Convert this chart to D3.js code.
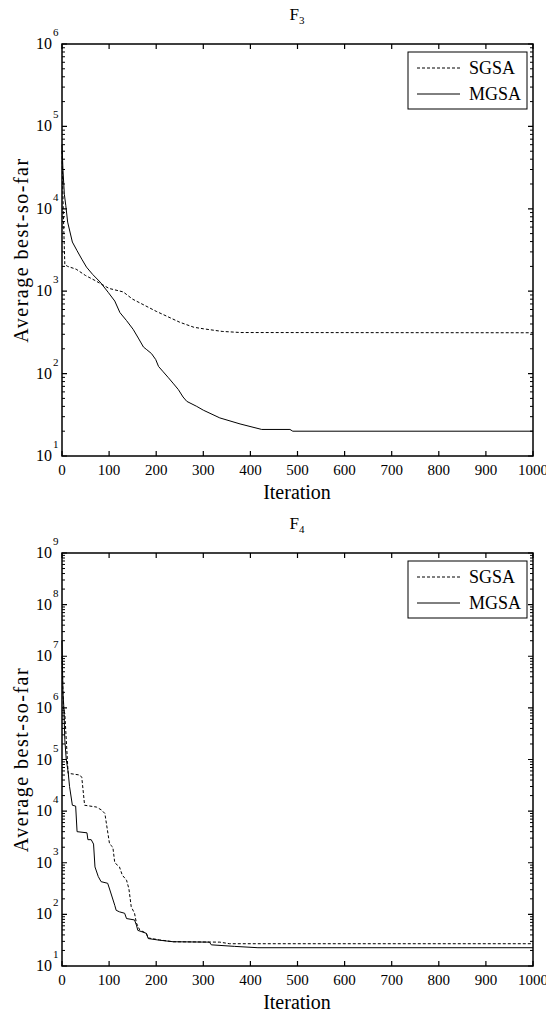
<!DOCTYPE html>
<html>
<head>
<meta charset="utf-8">
<script src="https://cdn.jsdelivr.net/npm/d3@7"></script>
</head>
<body style="margin:0">
<script>
// x axis ticks shared by both panels
const xTickValues = [0, 100, 200, 300, 400, 500, 600, 700, 800, 900, 1000];
const seriesNames = ['SGSA', 'MGSA'];

// F3
const f3SgsaIter = [0, 3, 6, 12, 30, 50, 70, 100, 130, 150, 200, 250, 280, 300, 340, 380, 1000];
const f3SgsaVal  = [50000, 8000, 2100, 2000, 1850, 1550, 1350, 1080, 980, 800, 570, 420, 365, 350, 325, 315, 313];
const f3MgsaIter = [0, 2, 5, 8, 12, 22, 32, 42, 52, 65, 81, 98, 112, 123, 137, 151, 162, 173, 180, 190, 199, 205, 215, 226, 237, 247, 257, 265, 286, 300, 335, 378, 424, 484, 490, 1000];
const f3MgsaVal  = [60000, 30000, 15000, 11000, 6900, 3950, 3100, 2450, 1960, 1600, 1290, 970, 760, 550, 440, 345, 270, 210, 195, 175, 148, 122, 105, 89, 75, 64, 52, 46, 40, 36, 29, 24.5, 21, 21, 20, 20];

// F4
const f4SgsaIter = [0, 3, 6, 13, 38, 42, 48, 73, 84, 91, 101, 108, 112, 122, 128, 137, 142, 147, 154, 158, 165, 179, 183, 207, 236, 335, 356, 1000];
const f4SgsaVal  = [1e7, 1e6, 7.7e5, 5.4e4, 5e4, 4.5e4, 1.3e4, 1.2e4, 1.05e4, 9000, 2300, 2000, 1000, 830, 575, 460, 315, 140, 105, 68, 50, 43, 35, 32, 29.5, 29, 27, 27];
const f4MgsaIter = [0, 2, 4, 6, 9, 13, 16, 22, 29, 32, 53, 55, 62, 67, 70, 77, 83, 97, 101, 112, 115, 122, 133, 137, 154, 158, 161, 179, 183, 207, 236, 313, 317, 366, 416, 1000];
const f4MgsaVal  = [2e7, 2e6, 1e6, 2.4e5, 1e5, 5.8e4, 3e4, 1.3e4, 1.25e4, 4000, 3800, 2800, 2800, 2300, 830, 540, 430, 400, 310, 150, 120, 112, 105, 83, 78, 62, 49, 43, 34, 31.6, 29.5, 29, 25.7, 24, 22.6, 22.6];

const FONT = 'Times New Roman';

let svg = d3.select('body').append('svg')
    .attr('width', 546).attr('height', 1015);

function zip(iter, val) { return iter.map((d, i) => ({ x: d, y: val[i] })); }

function label(sel, size) {
    return sel.attr('font-size', size).attr('font-family', FONT).style('font-family', FONT);
}

function drawPanel(p) {
    let x = d3.scaleLinear().domain([0, 1000]).range([62, 533]);
    let y = d3.scaleLog().domain([10, Math.pow(10, p.maxExp)]).range([p.bottom, p.top]);
    let g = svg.append('g');

    // title
    let t = label(g.append('text'), 17).attr('x', 297).attr('y', p.top - 24).attr('text-anchor', 'middle');
    t.append('tspan').text('F');
    t.append('tspan').attr('dy', 4).attr('font-size', 11).text(p.sub);

    // curves
    let line = d3.line().x(d => x(d.x)).y(d => y(d.y));
    g.append('path').datum(zip(p.sgsaIter, p.sgsaVal))
        .attr('d', line).attr('fill', 'none').attr('stroke', 'black')
        .attr('stroke-width', 1).attr('stroke-dasharray', '3,2');
    g.append('path').datum(zip(p.mgsaIter, p.mgsaVal))
        .attr('d', line).attr('fill', 'none').attr('stroke', 'black').attr('stroke-width', 1);

    // box
    g.append('rect').attr('x', x(0)).attr('y', p.top)
        .attr('width', x(1000) - x(0)).attr('height', p.bottom - p.top)
        .attr('fill', 'none').attr('stroke', 'black').attr('stroke-width', 1.5);

    // x ticks, inward on bottom and top
    g.selectAll('.xt').data(xTickValues).join('path')
        .attr('d', d => 'M' + x(d) + ',' + p.bottom + 'v-5M' + x(d) + ',' + p.top + 'v5')
        .attr('stroke', 'black').attr('stroke-width', 1.2);
    label(g.selectAll('.xl').data(xTickValues).join('text'), 15)
        .attr('x', d => x(d)).attr('y', p.bottom + 19).attr('text-anchor', 'middle')
        .text(d => d);
    label(g.append('text'), 20).attr('x', 297).attr('y', p.bottom + 43)
        .attr('text-anchor', 'middle').text('Iteration');

    // y ticks
    let major = d3.range(1, p.maxExp + 1);
    let minor = [];
    for (let e = 1; e < p.maxExp; e++) for (let k = 2; k <= 9; k++) minor.push(k * Math.pow(10, e));
    g.selectAll('.ymaj').data(major).join('path')
        .attr('d', d => 'M' + x(0) + ',' + y(Math.pow(10, d)) + 'h5M' + x(1000) + ',' + y(Math.pow(10, d)) + 'h-5')
        .attr('stroke', 'black').attr('stroke-width', 1.2);
    g.selectAll('.ymin').data(minor).join('path')
        .attr('d', d => 'M' + x(0) + ',' + y(d) + 'h3M' + x(1000) + ',' + y(d) + 'h-3')
        .attr('stroke', 'black').attr('stroke-width', 1);
    label(g.selectAll('.ylab').data(major).join('text'), 16)
        .attr('x', x(0) - 10).attr('y', d => y(Math.pow(10, d)) + 5).attr('text-anchor', 'end')
        .text('10');
    label(g.selectAll('.yexp').data(major).join('text'), 11)
        .attr('x', x(0) - 9).attr('y', d => y(Math.pow(10, d)) - 8)
        .text(d => d);

    let cy = (p.top + p.bottom) / 2;
    label(g.append('text'), 20).attr('transform', 'translate(28,' + cy + ') rotate(-90)')
        .attr('text-anchor', 'middle').attr('letter-spacing', 1.5)
        .text('Average best-so-far');

    // legend
    let lg = g.append('g').attr('transform', 'translate(408,' + (p.top + 8) + ')');
    lg.append('rect').attr('width', 119).attr('height', 57).attr('fill', 'white')
        .attr('stroke', 'black').attr('stroke-width', 1);
    seriesNames.forEach((name, i) => {
        let ly = 16 + i * 26;
        lg.append('line').attr('x1', 9).attr('x2', 52).attr('y1', ly).attr('y2', ly)
            .attr('stroke', 'black').attr('stroke-width', 1)
            .attr('stroke-dasharray', i == 0 ? '3,2' : null);
        label(lg.append('text'), 18).attr('x', 61).attr('y', ly + 6).text(name);
    });
}

drawPanel({ sub: '3', top: 44, bottom: 456, maxExp: 6,
    sgsaIter: f3SgsaIter, sgsaVal: f3SgsaVal, mgsaIter: f3MgsaIter, mgsaVal: f3MgsaVal });
drawPanel({ sub: '4', top: 553, bottom: 966, maxExp: 9,
    sgsaIter: f4SgsaIter, sgsaVal: f4SgsaVal, mgsaIter: f4MgsaIter, mgsaVal: f4MgsaVal });
</script>
</body>
</html>
